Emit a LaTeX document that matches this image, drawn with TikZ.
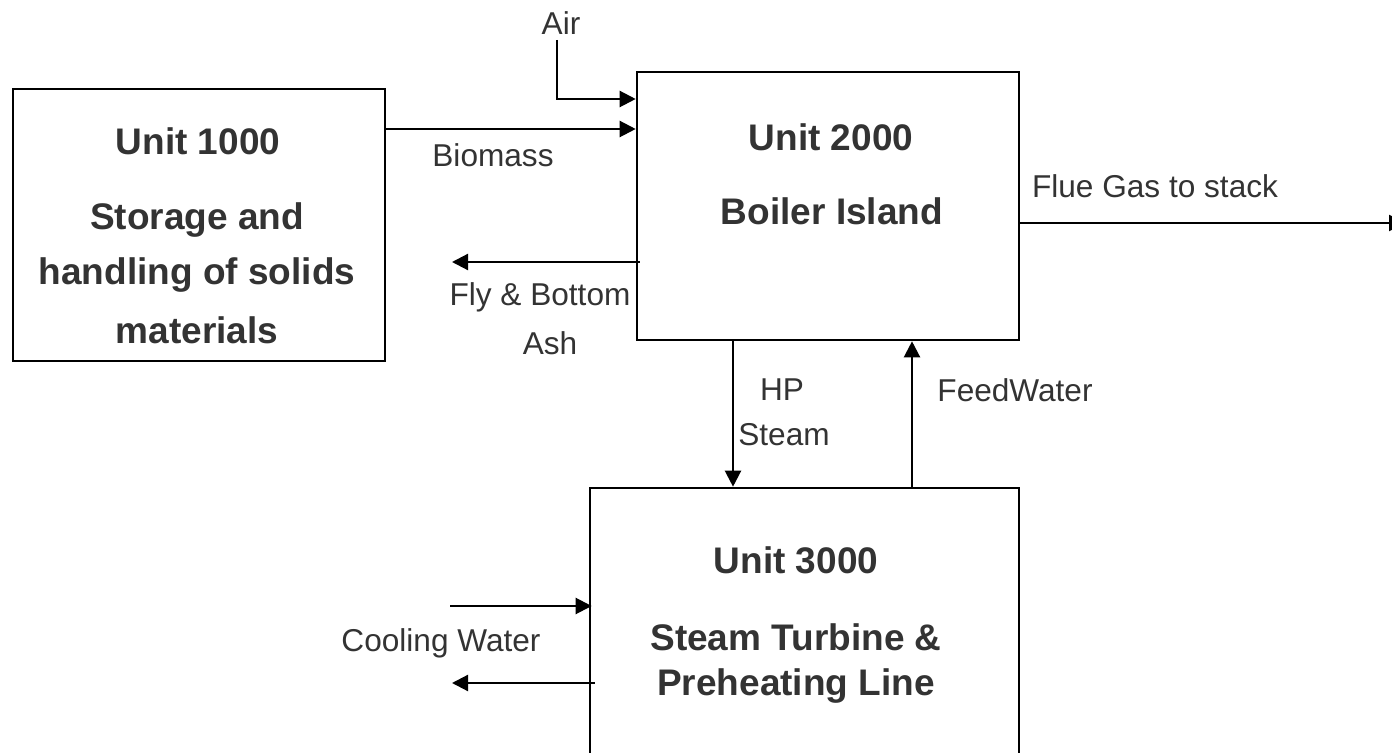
\documentclass[tikz,border=0pt]{standalone}
\usepackage{fontspec}
\setmainfont{Liberation Sans}
\usetikzlibrary{arrows.meta}
\definecolor{txt}{HTML}{333333}
\begin{document}
\begin{tikzpicture}[x=0.5pt,y=-0.5pt,
  box/.style={draw=black,line width=1.3pt,inner sep=0pt,fill=white},
  arr/.style={draw=black,line width=1.1pt,-{Triangle[length=8pt,width=8pt]}},
  title/.style={text=txt,font=\fontsize{18.5}{22}\selectfont\bfseries,inner sep=0pt},
  lab/.style={text=txt,font=\fontsize{15.8}{19}\selectfont,inner sep=0pt}]
\useasboundingbox (0,0) rectangle (1392,753);
\clip (0,0) rectangle (1392,753);
% boxes
\node[box,minimum width=186pt,minimum height=136pt] (u1) at (199,225) {};
\node[box,minimum width=191pt,minimum height=134pt] (u2) at (828,206) {};
\node[box,minimum width=214.5pt,minimum height=150pt] (u3) at (804.5,638) {};
% box texts
\node[title] (t1a) at (198,141) {Unit 1000};
\node[title] (t1b) at (197,220) {Storage and};
\node[title] (t1c) at (197,275) {handling of solids};
\node[title] (t1d) at (197,330) {materials};
\node[title] (t2a) at (831,137) {Unit 2000};
\node[title] (t2b) at (832,211) {Boiler Island};
\node[title] (t3a) at (796,560) {Unit 3000};
\node[title] (t3b) at (796,637) {Steam Turbine \&};
\node[title] (t3c) at (796,686) {Preheating Line};
% labels
\node[lab] (lair) at (561,23) {Air};
\node[lab] (lbio) at (493,155) {Biomass};
\node[lab] (lflue) at (1155,186) {Flue Gas to stack};
\node[lab] (lfly) at (540,297) {Fly \& Bottom};
\node[lab] (lash) at (550,343) {Ash};
\node[lab] (lhp) at (782,390) {HP};
\node[lab] (lst) at (784,435) {Steam};
\node[lab] (lfw) at (1015,390) {FeedWater};
\node[lab] (lcw) at (441,643) {Cooling Water};
% connectors
\coordinate (airtop) at (557,40);
\draw[arr] (airtop) -- (557,99) -- (u2.west |- 0,99);
\draw[arr] (u1.east |- 0,129) -- (u2.west |- 0,129);
\coordinate (flueend) at (1405,223);
\draw[arr] (u2.east |- 0,223) -- (flueend);
\coordinate (ashend) at (452,262);
\draw[arr] ([xshift=2pt]u2.west |- 0,262) -- (ashend);
\draw[arr] (u2.south -| 733,0) -- (u3.north -| 733,0);
\draw[arr] (u3.north -| 912,0) -- (u2.south -| 912,0);
\coordinate (cwin) at (450,606);
\coordinate (cwout) at (452,683);
\draw[arr] (cwin) -- ([xshift=1.5pt]u3.west |- 0,606);
\draw[arr] ([xshift=3pt]u3.west |- 0,683) -- (cwout);
\end{tikzpicture}
\end{document}
